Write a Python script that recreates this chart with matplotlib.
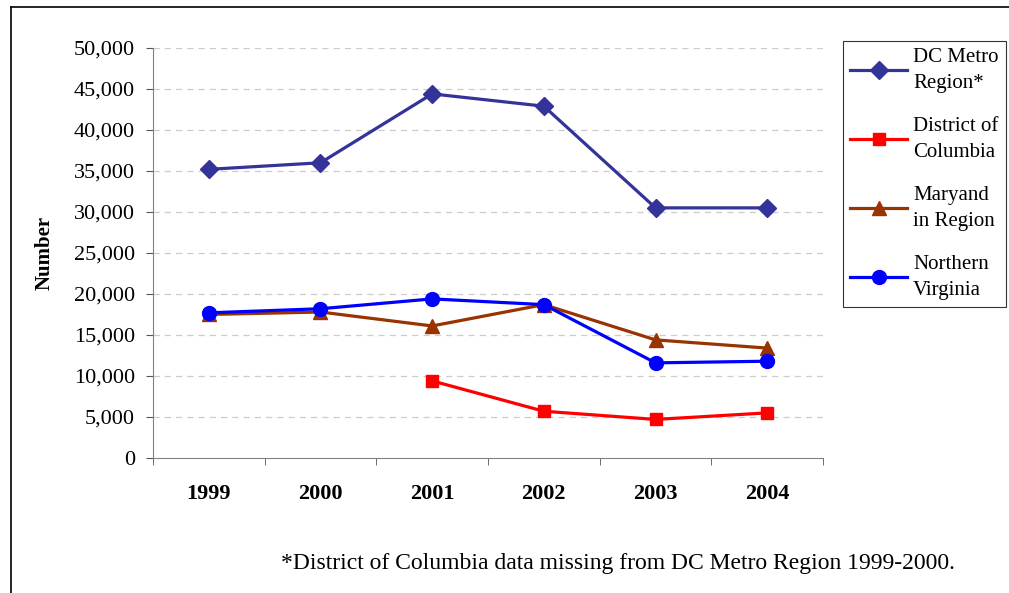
import numpy as np
import matplotlib.pyplot as plt
from matplotlib.lines import Line2D

plt.rcParams['font.family'] = ['Liberation Serif', 'DejaVu Serif']

years = ['1999', '2000', '2001', '2002', '2003', '2004']
dc_metro = [35200, 36000, 44400, 42900, 30500, 30500]
district = [np.nan, np.nan, 9400, 5700, 4700, 5500]
maryland = [17500, 17800, 16100, 18700, 14400, 13400]
n_virginia = [17700, 18200, 19400, 18700, 11600, 11800]

series = [
    ('DC Metro\nRegion*', dc_metro, '#333399', 'D', 9),
    ('District of\nColumbia', district, '#FF0000', 's', 9),
    ('Maryand\nin Region', maryland, '#993300', '^', 10),
    ('Northern\nVirginia', n_virginia, '#0000FF', 'o', 10),
]

fig = plt.figure(figsize=(10.09, 5.93), dpi=100)
ax = fig.add_axes([0.1516, 0.2277, 0.6641, 0.6914])

x = np.arange(len(years))
for label, vals, color, marker, ms in series:
    ax.plot(x, vals, color=color, lw=2.3, marker=marker, markersize=ms, label=label)

ax.set_xlim(-0.5, len(years) - 0.5)
ax.set_ylim(0, 50000)
ax.set_yticks(np.arange(0, 50001, 5000))
ax.set_yticklabels(['{:,}'.format(v) for v in range(0, 50001, 5000)], fontsize=16)
ax.set_xticks(x)
ax.set_xticklabels(years, fontsize=16, fontweight='bold')
ax.set_xticks(np.arange(-0.5, len(years)), minor=True)
ax.tick_params(axis='x', which='major', length=0, pad=19)
ax.tick_params(axis='x', which='minor', length=5, color='#555555', direction='out')
ax.tick_params(axis='y', length=5, color='#555555', direction='out', pad=8)

for v in range(5000, 50001, 5000):
    ax.axhline(v, color='#cccccc', lw=0.9, ls=(0, (5, 4)), zorder=0)

for s in ['top', 'right']:
    ax.spines[s].set_visible(False)
ax.spines['left'].set_color('#808080')
ax.spines['bottom'].set_color('#808080')

ax.set_ylabel('Number', fontsize=15, fontweight='bold', labelpad=14)

leg = ax.legend(loc='upper left', bbox_to_anchor=(1.03, 1.018), fontsize=15,
                frameon=True, fancybox=False, edgecolor='black', handlelength=2.7,
                labelspacing=1.15, borderpad=0.35, handletextpad=0.3, borderaxespad=0)
leg.get_frame().set_linewidth(0.8)
for t in leg.get_texts():
    t.set_linespacing(1.5)

fig.text(0.278, 0.04, '*District of Columbia data missing from DC Metro Region 1999-2000.',
         fontsize=17)

# outer chart frame
fig.add_artist(Line2D([11 / 1009, 11 / 1009], [0, 1 - 7 / 593], color='black', lw=1.2))
fig.add_artist(Line2D([11 / 1009, 1], [1 - 7 / 593, 1 - 7 / 593], color='black', lw=1.2))

fig.savefig('out.png', dpi=100)
